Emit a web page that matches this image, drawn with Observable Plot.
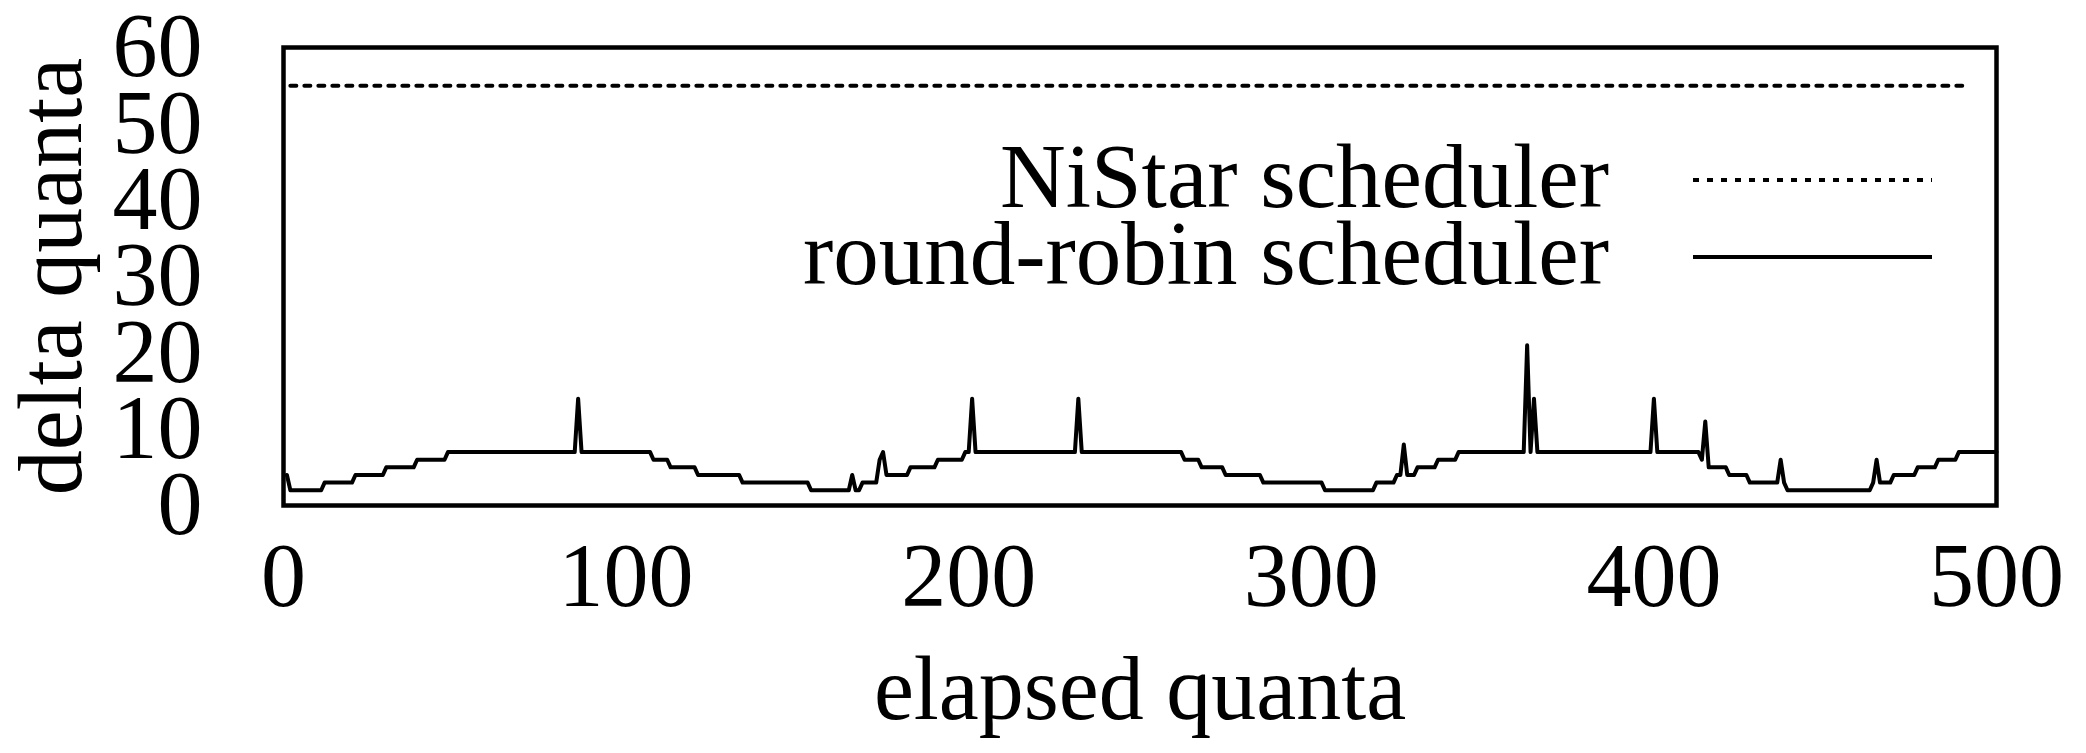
<!DOCTYPE html>
<html><head><meta charset="utf-8">
<script src="https://cdn.jsdelivr.net/npm/d3@7"></script>
<script src="https://cdn.jsdelivr.net/npm/@observablehq/plot@0.6"></script>
<style>html,body{margin:0;padding:0;background:#fff;overflow:hidden;} #chart svg{display:block;}</style>
</head><body><div id="chart"></div>
<script>
// Series names and axis titles
const seriesNames = ["NiStar scheduler", "round-robin scheduler"];
const xLabel = "elapsed quanta";
const yLabel = "delta quanta";
// Tick labels
const xTicks = [0, 100, 200, 300, 400, 500];
const yTicks = [0, 10, 20, 30, 40, 50, 60];
// NiStar scheduler (constant delta)
const niX = [2, 490];
const niY = [55, 55];
// round-robin scheduler (vertices)
const rrX = [1,2,11,12,20,21,29,30,38,39,47,48,85,86,87,107,108,112,113,120,121,133,134,153,154,165,166,167,168,169,173,174,175,176,182,183,190,191,198,199,200,201,202,231,232,233,262,263,267,268,274,275,285,286,303,304,318,319,324,325,326,327,328,330,331,336,337,342,343,362,363,364,365,366,399,400,401,413,414,415,416,421,422,427,428,436,437,438,439,463,464,465,466,469,470,476,477,482,483,488,489,500];
const rrY = [4,2,2,3,3,4,4,5,5,6,6,7,7,14,7,7,6,6,5,5,4,4,3,3,2,2,4,2,2,3,3,6,7,4,4,5,5,6,6,7,7,14,7,7,14,7,7,6,6,5,5,4,4,3,3,2,2,3,3,4,4,8,4,4,5,5,6,6,7,7,21,7,14,7,7,14,7,7,6,11,5,5,4,4,3,3,6,3,2,2,3,6,3,3,4,4,5,5,6,6,7,7];

const ni = niX.map((x, i) => ({x, y: niY[i]}));
const rr = rrX.map((x, i) => ({x, y: rrY[i]}));

const FONT = '"Liberation Serif", "Times New Roman", Times, serif';
const FS = 90;
const DASH = "6,8";

const plot = Plot.plot({
  width: 2086, height: 753,
  marginLeft: 283, marginRight: 90, marginTop: 47, marginBottom: 248,
  style: {fontFamily: FONT, fontSize: FS + "px", color: "#000", background: "#fff"},
  x: {domain: [0, 500]},
  y: {domain: [0, 60]},
  marks: [
    Plot.axisX({ticks: xTicks, tickSize: 0, tickPadding: 37, label: null, fontSize: FS}),
    Plot.axisY({ticks: yTicks, tickSize: 0, tickPadding: 81, label: null, fontSize: FS}),
    Plot.line(ni, {x: "x", y: "y", stroke: "#000", strokeWidth: 4, strokeDasharray: DASH}),
    Plot.line(rr, {x: "x", y: "y", stroke: "#000", strokeWidth: 4, strokeLinejoin: "round"}),
    Plot.frame({stroke: "#000", strokeWidth: 4.5}),
    Plot.text([xLabel], {text: d => d, frameAnchor: "bottom", dy: 213, lineAnchor: "bottom", textAnchor: "middle", fontSize: FS}),
    Plot.text([yLabel], {text: d => d, frameAnchor: "left", dx: -203, rotate: -90, lineAnchor: "bottom", textAnchor: "middle", fontSize: FS})
  ]
});

// Legend inside the frame (top right), gnuplot-style
const svg = d3.select(plot);
const lg = svg.append("g").attr("font-family", FONT).attr("font-size", 91);
const legendItems = [
  {name: seriesNames[0], dash: DASH, base: 207},
  {name: seriesNames[1], dash: null, base: 284}
];
legendItems.forEach(it => {
  lg.append("text").attr("x", 1609).attr("y", it.base).attr("text-anchor", "end").attr("fill", "#000").text(it.name);
  const ln = lg.append("line").attr("x1", 1693).attr("x2", 1932).attr("y1", it.base - 27).attr("y2", it.base - 27)
    .attr("stroke", "#000").attr("stroke-width", 4);
  if (it.dash) ln.attr("stroke-dasharray", it.dash);
});

document.getElementById("chart").appendChild(plot);
</script>
</body></html>
